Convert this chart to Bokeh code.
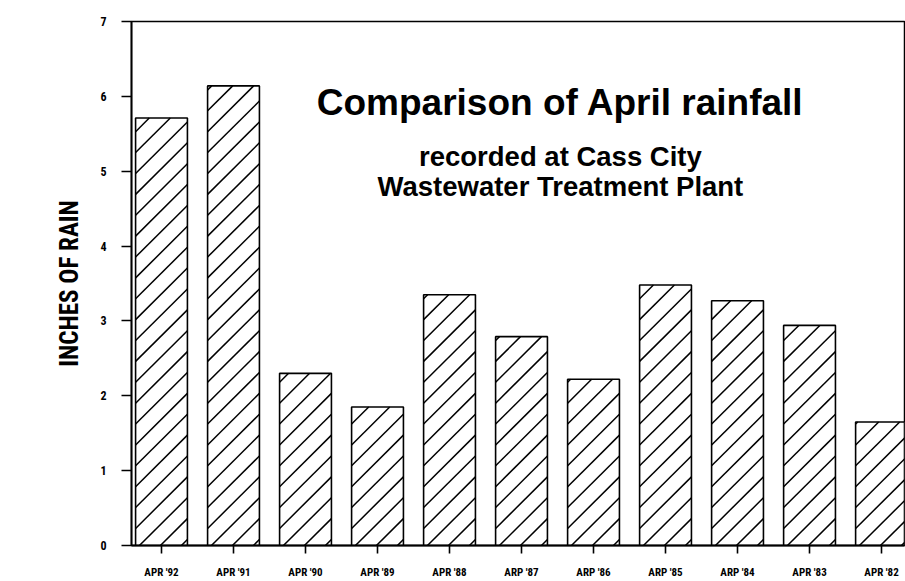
from bokeh.plotting import figure
from bokeh.models import FixedTicker, Range1d, Label
from bokeh.embed import file_html
from bokeh.resources import INLINE

categories = ["APR '92", "APR '91", "APR '90", "APR '89", "APR '88", "ARP '87",
              "ARP '86", "ARP '85", "ARP '84", "APR '83", "APR '82"]
rainfall = [5.71, 6.14, 2.30, 1.85, 3.35, 2.79, 2.22, 3.48, 3.27, 2.94, 1.65]
y_ticks = [0, 1, 2, 3, 4, 5, 6, 7]
title_lines = ["Comparison of April rainfall", "recorded at Cass City",
               "Wastewater Treatment Plant"]

COND = "Roboto Condensed"

W, H = 905, 581
BL, BR, BT, BB = 131, 1, 21, 33
X0, X1 = -0.4167, 10.319
Y0, Y1 = 0, 7
BAR_W = 0.72
HATCH_GAP = 21  # vertical pixel spacing of the hatch lines

xs = list(range(len(categories)))

p = figure(width=W, height=H, output_backend="svg", toolbar_location=None,
           x_range=Range1d(X0, X1), y_range=Range1d(Y0, Y1),
           min_border_left=BL, min_border_right=BR, min_border_top=BT,
           min_border_bottom=BB)
p.background_fill_color = "white"
p.border_fill_color = "white"
p.outline_line_color = "black"
p.outline_line_width = 1.5
p.xgrid.visible = False
p.ygrid.visible = False

# pixel scale of data units (for 45-degree hatch lines)
sx = (W - BL - BR) / (X1 - X0)
sy = (H - BT - BB) / (Y1 - Y0)

hx0, hy0, hx1, hy1 = [], [], [], []
for xc, top in zip(xs, rainfall):
    left = xc - BAR_W / 2
    wpx = BAR_W * sx
    hpx = top * sy
    c = -wpx + 6
    while c < hpx:
        u0 = max(0.0, -c)
        u1 = min(wpx, hpx - c)
        if u1 > u0:
            hx0.append(left + u0 / sx)
            hy0.append((u0 + c) / sy)
            hx1.append(left + u1 / sx)
            hy1.append((u1 + c) / sy)
        c += HATCH_GAP

p.vbar(x=xs, top=rainfall, width=BAR_W, bottom=0, fill_color="white",
       line_color=None)
p.segment(x0=hx0, y0=hy0, x1=hx1, y1=hy1, line_color="black", line_width=1.5)
p.vbar(x=xs, top=rainfall, width=BAR_W, bottom=0, fill_color=None,
       line_color="black", line_width=1.6)

p.xaxis.ticker = FixedTicker(ticks=xs)
p.xaxis.major_label_overrides = {i: c for i, c in enumerate(categories)}
p.yaxis.ticker = FixedTicker(ticks=y_ticks)

for ax in (p.xaxis, p.yaxis):
    ax.axis_line_width = 1.8
    ax.axis_line_color = "black"
    ax.major_tick_line_width = 1.6
    ax.major_tick_line_color = "black"
    ax.major_tick_in = 0
    ax.minor_tick_line_color = None
    ax.major_label_text_font = COND
    ax.major_label_text_font_style = "bold"
    ax.major_label_text_color = "black"

p.xaxis.major_tick_out = 8
p.xaxis.major_label_text_font_size = "11px"
p.xaxis.major_label_standoff = 12
p.yaxis.major_tick_out = 10
p.yaxis.major_label_text_font_size = "12px"
p.yaxis.major_label_standoff = 15
p.yaxis.axis_label = "INCHES OF RAIN"
p.yaxis.axis_label_text_font = COND
p.yaxis.axis_label_text_font_style = "bold"
p.yaxis.axis_label_text_font_size = "25px"
p.yaxis.axis_label_text_color = "black"
p.yaxis.axis_label_standoff = 13

sizes = ["37px", "27.5px", "27.5px"]
ys = [5.92, 5.20, 4.80]
for t, s, yy in zip(title_lines, sizes, ys):
    p.add_layout(Label(x=5.54, y=yy, text=t, text_align="center",
                       text_baseline="alphabetic", text_font="Liberation Sans",
                       text_font_style="bold", text_font_size=s,
                       text_color="black"))

open("out.html", "w").write(file_html(p, INLINE))
